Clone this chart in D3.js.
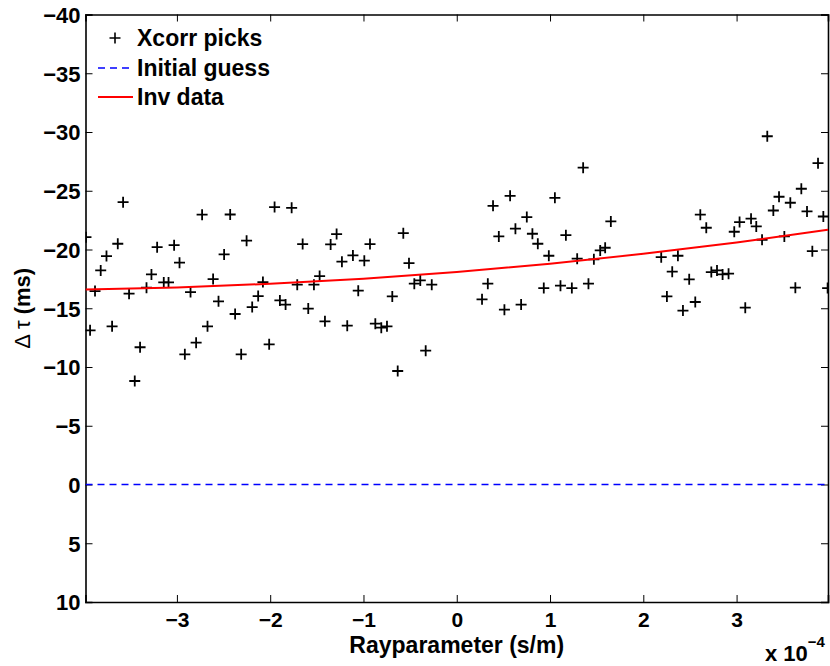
<!DOCTYPE html>
<html>
<head>
<meta charset="utf-8">
<script src="https://cdn.jsdelivr.net/npm/d3@7"></script>
<style>
  html, body { margin: 0; padding: 0; background: #fff; }
  svg text { font-family: "Liberation Sans", Arial, Helvetica, sans-serif; font-weight: bold; fill: #000; }
</style>
</head>
<body>
<svg id="chart" width="830" height="666"></svg>
<script>
// Ray parameter in units of 1e-4 s/m, delay in ms
const pickRayp = [
  -3.577,-3.975,-3.634,-3.755,-3.817,-3.878,-3.931,-3.695,-3.513,-3.452,-3.395,-3.326,-3.273,-3.212,-3.141,-3.090,
  -3.030,-2.972,-2.915,-2.854,-2.794,-2.730,-2.672,-2.612,-2.554,-2.494,-2.429,-2.376,-2.311,-2.253,-2.193,-2.129,
  -2.078,-2.011,-1.953,-1.896,-1.770,-1.652,-1.288,-1.352,-0.930,-0.573,-1.113,-1.231,-0.991,-0.512,-1.470,-1.710,
  -1.531,-1.056,-0.691,-0.455,-0.391,-0.268,-1.835,-1.592,-1.413,-1.174,-0.873,-0.809,-0.748,-0.333,-0.633,
  1.355,0.572,0.389,1.052,0.751,1.652,0.629,0.451,0.811,1.170,0.869,1.538,1.591,0.987,1.291,1.470,0.333,0.271,
  0.511,0.690,0.933,1.112,1.234,1.412,
  3.329,3.873,3.694,3.455,3.576,3.394,3.755,3.930,2.611,3.032,3.155,2.675,3.211,2.975,3.273,3.512,3.812,2.192,
  2.371,2.310,2.492,2.729,2.790,2.850,2.914,2.253,2.557,2.425,3.093,3.630,3.976
];
const pickDelay = [
  -24.03,-21.05,-20.49,-19.44,-18.22,-16.46,-13.12,-13.46,-16.24,-8.81,-11.68,-16.75,-17.88,-20.20,-17.20,-17.20,
  -20.37,-18.88,-11.08,-16.38,-12.07,-22.96,-13.46,-17.48,-15.59,-19.58,-22.98,-14.51,-11.08,-20.75,-15.10,-16.04,
  -17.23,-11.93,-23.61,-15.67,-23.55,-20.46,-21.31,-20.43,-20.46,-21.39,-19.50,-18.96,-19.05,-18.84,-17.74,-17.01,
  -17.01,-16.50,-16.01,-17.09,-17.37,-17.01,-15.31,-14.97,-13.89,-13.52,-13.69,-13.35,-13.46,-11.39,-9.66,
  -26.96,-24.57,-23.72,-24.40,-22.76,-22.39,-21.77,-21.11,-21.34,-21.22,-20.49,-19.92,-20.15,-19.47,-19.22,-19.16,-17.09,-15.76,
  -14.88,-15.31,-16.72,-16.92,-16.72,-17.09,
  -29.64,-27.35,-25.17,-24.49,-23.98,-23.32,-23.24,-22.81,-22.96,-22.33,-22.62,-21.85,-21.96,-21.51,-20.83,-21.11,-19.86,-19.35,
  -19.47,-18.11,-17.46,-18.08,-18.22,-17.88,-17.94,-16.01,-15.53,-14.80,-15.05,-16.75,-16.72
];
const initRayp = [-3.98, 3.98];
const initDelay = [0, 0];
const invRayp = [-3.98, -3, -2, -1, 0, 1, 2, 3, 3.98];
const invDelay = [-16.6, -16.77, -17.08, -17.52, -18.09, -18.79, -19.63, -20.6, -21.68];
const xTicks = [-3, -2, -1, 0, 1, 2, 3];
const yTicks = [-40, -35, -30, -25, -20, -15, -10, -5, 0, 5, 10];
const legendLabels = ["Xcorr picks", "Initial guess", "Inv data"];

const svg = d3.select("#chart");
const L = 85.5, R = 828, T = 14.5, B = 602;
const x = d3.scaleLinear().domain([-3.98, 3.98]).range([L, R]);
const y = d3.scaleLinear().domain([-40, 10]).range([T, B]);
const fmt = d => (d < 0 ? "\u2212" + Math.abs(d) : String(d));

svg.append("defs").append("clipPath").attr("id", "clip")
  .append("rect").attr("x", L).attr("y", T).attr("width", R - L).attr("height", B - T);

// Axes with inward ticks on all four sides
const gB = svg.append("g").attr("transform", `translate(0,${B})`)
  .call(d3.axisBottom(x).tickValues(xTicks).tickSize(-7).tickPadding(10).tickFormat(fmt));
const gT = svg.append("g").attr("transform", `translate(0,${T})`)
  .call(d3.axisTop(x).tickValues(xTicks).tickSize(-7).tickFormat(""));
const gL = svg.append("g").attr("transform", `translate(${L},0)`)
  .call(d3.axisLeft(y).tickValues(yTicks).tickSize(-7).tickPadding(5).tickFormat(fmt));
const gR = svg.append("g").attr("transform", `translate(${R},0)`)
  .call(d3.axisRight(y).tickValues(yTicks).tickSize(-7).tickFormat(""));
[gB, gT, gL, gR].forEach(g => {
  g.select(".domain").attr("stroke", "#000").attr("stroke-width", 1.6);
  g.selectAll(".tick line").attr("stroke", "#000").attr("stroke-width", 1);
  g.selectAll(".tick text").attr("font-size", 22).attr("font-weight", "bold")
    .attr("font-family", '"Liberation Sans", Arial, Helvetica, sans-serif').attr("fill", "#000");
});
gL.selectAll(".tick text").attr("dy", "0.36em");
gB.selectAll(".tick text").attr("font-size", 21);

const plot = svg.append("g").attr("clip-path", "url(#clip)");

// Picks as plus markers
const s = 5.5;
const pts = pickRayp.map((r, i) => [r, pickDelay[i]]);
plot.append("g").selectAll("path").data(pts).join("path")
  .attr("d", d => `M${x(d[0]) - s},${y(d[1])}H${x(d[0]) + s}M${x(d[0])},${y(d[1]) - s}V${y(d[1]) + s}`)
  .attr("stroke", "#000").attr("stroke-width", 1.8).attr("fill", "none");

// Initial guess
plot.append("path")
  .datum(initRayp.map((r, i) => [r, initDelay[i]]))
  .attr("d", d3.line().x(d => x(d[0])).y(d => y(d[1])))
  .attr("stroke", "#0000ff").attr("stroke-width", 1.5).attr("stroke-dasharray", "7,5").attr("fill", "none");

// Inverted data
plot.append("path")
  .datum(invRayp.map((r, i) => [r, invDelay[i]]))
  .attr("d", d3.line().curve(d3.curveMonotoneX).x(d => x(d[0])).y(d => y(d[1])))
  .attr("stroke", "#ff0000").attr("stroke-width", 2).attr("fill", "none");

// Legend
const lg = svg.append("g");
const ly = [38, 68, 97];
lg.append("path").attr("d", `M${115 - s},${ly[0]}H${115 + s}M115,${ly[0] - s}V${ly[0] + s}`)
  .attr("stroke", "#000").attr("stroke-width", 1.6);
lg.append("line").attr("x1", 98).attr("x2", 133).attr("y1", ly[1]).attr("y2", ly[1])
  .attr("stroke", "#0000ff").attr("stroke-width", 1.5).attr("stroke-dasharray", "7,5");
lg.append("line").attr("x1", 98).attr("x2", 133).attr("y1", ly[2]).attr("y2", ly[2])
  .attr("stroke", "#ff0000").attr("stroke-width", 2);
lg.selectAll("text").data(legendLabels).join("text")
  .attr("x", 137).attr("y", (d, i) => ly[i] + 8)
  .attr("font-size", 23).text(d => d);

// Axis labels
svg.append("text").attr("x", (L + R) / 2).attr("y", 653).attr("text-anchor", "middle")
  .attr("font-size", 23).text("Rayparameter (s/m)");
const yl = svg.append("text").attr("transform", `translate(30,${(T + B) / 2}) rotate(-90)`)
  .attr("text-anchor", "middle").attr("font-size", 22);
yl.append("tspan").attr("font-weight", "normal").text("\u0394 \u03c4 ");
yl.append("tspan").text("(ms)");

// Exponent
const ex = svg.append("text").attr("x", 765).attr("y", 661).attr("font-size", 22);
ex.append("tspan").text("x 10");
ex.append("tspan").attr("font-size", 15).attr("dy", -14).text("\u22124");
</script>
</body>
</html>
